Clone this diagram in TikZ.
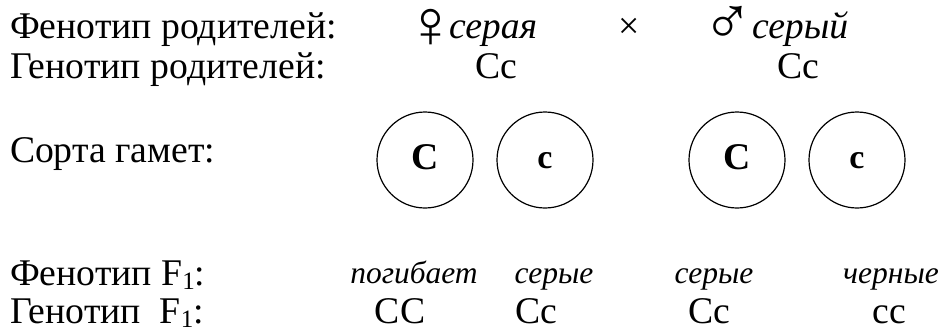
\documentclass[tikz,border=0pt]{standalone}
\usepackage{fontspec}
\setmainfont{Liberation Serif}
\newcommand{\subone}{\raisebox{-0.12em}{\fontsize{25}{25}\selectfont 1}}
\begin{document}
\begin{tikzpicture}[x=1pt,y=-1pt,
  txt/.style={inner sep=0pt,outer sep=0pt,font=\fontsize{37.7}{40}\selectfont},
  lbl/.style={txt,anchor=base west},
  ctr/.style={txt,anchor=base},
  sym/.style={txt,anchor=center},
  itw/.style={txt,anchor=base west,font=\fontsize{37.7}{40}\selectfont\itshape},
  itl/.style={inner sep=0pt,outer sep=0pt,anchor=base,font=\fontsize{31.5}{34}\selectfont\itshape},
  low/.style={text depth=0pt},
  gamete/.style={draw,circle,line width=1.2pt,minimum size=96pt,inner sep=0pt,text depth=0pt,font=\fontsize{37.7}{40}\selectfont\bfseries},
  big/.style={gamete,text height=19pt},
  small/.style={gamete,text height=17pt,font=\fontsize{34}{36}\selectfont\bfseries}]
\useasboundingbox (0,0) rectangle (945,330);
% row labels
\node[lbl] (l1) at (10,38) {Фенотип родителей:};
\node[lbl] (l2) at (10,78) {Генотип родителей:};
\node[lbl] (l3) at (10,162) {Сорта гамет:};
\node[lbl] (l4) at (10,285) {Фенотип F\subone:};
\node[lbl,low] (l5) at (10,323) {Генотип\ \ F\subone:};
% parents
\node[sym] (fs) at (431,28) {\scalebox{1.8}{♀}};
\node[itw] (fw) at (449,38) {серая};
\node[ctr] (cross) at (629,38) {×};
\node[sym] (ms) at (728,25) {\scalebox{1.8}{♂}};
\node[itw] (mw) at (752,38) {серый};
\node[ctr] (g1) at (496,78) {Cc};
\node[ctr] (g2) at (798,78) {Cc};
% gametes
\node[big] (c1) at (425,160) {C};
\node[small] (c2) at (545,160) {c};
\node[big] (c3) at (737,160) {C};
\node[small] (c4) at (857,160) {c};
% offspring
\node[itl] (p1) at (414,283) {погибает};
\node[itl] (p2) at (554,283) {серые};
\node[itl] (p3) at (714,283) {серые};
\node[itl] (p4) at (891,283) {черные};
\node[ctr,low] (f1) at (400,323) {CC};
\node[ctr,low] (f2) at (536,323) {Cc};
\node[ctr,low] (f3) at (709,323) {Cc};
\node[ctr,low] (f4) at (889,323) {cc};
\end{tikzpicture}
\end{document}
